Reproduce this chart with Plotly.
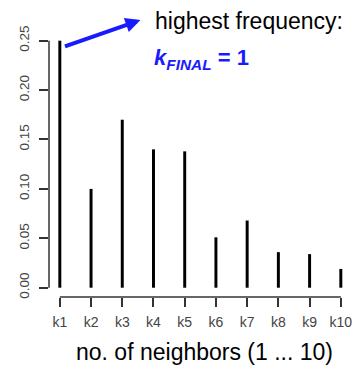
import plotly.graph_objects as go

# Relative frequency of each neighbourhood size k chosen across runs
k_labels = ["k1", "k2", "k3", "k4", "k5", "k6", "k7", "k8", "k9", "k10"]
k_values = [1, 2, 3, 4, 5, 6, 7, 8, 9, 10]
frequency = [0.25, 0.10, 0.17, 0.14, 0.138, 0.051, 0.068, 0.036, 0.034, 0.019]
y_ticks = [0.00, 0.05, 0.10, 0.15, 0.20, 0.25]

W, H = 358, 365
L, R, T, B = 49, 6, 30, 68
PW, PH = W - L - R, H - T - B

X_RANGE = [0.6534, 10.198]
Y_RANGE = [-0.0094, 0.2608]

FONT = "Liberation Sans, Arial, sans-serif"
AXIS_COLOR = "#333333"
LABEL_COLOR = "#444444"
BLUE = "#1a1aff"


def px_to_paper(px, py):
    return (px - L) / PW, (T + PH - py) / PH


fig = go.Figure()
fig.add_trace(go.Bar(
    x=k_values,
    y=frequency,
    width=0.095,
    marker=dict(color="black", line=dict(width=0)),
    hoverinfo="skip",
))

fig.update_layout(
    width=W, height=H,
    margin=dict(l=L, r=R, t=T, b=B, pad=0),
    paper_bgcolor="white",
    plot_bgcolor="white",
    showlegend=False,
    font=dict(family=FONT),
    xaxis=dict(
        range=X_RANGE,
        tickmode="array",
        tickvals=k_values,
        ticktext=k_labels,
        ticks="outside",
        ticklen=9,
        tickwidth=1.5,
        tickcolor=AXIS_COLOR,
        tickfont=dict(family=FONT, size=14, color=LABEL_COLOR),
        ticklabelstandoff=3,
        showgrid=False,
        zeroline=False,
        showline=False,
        fixedrange=True,
    ),
    yaxis=dict(
        range=Y_RANGE,
        tickmode="array",
        tickvals=y_ticks,
        ticktext=[f"{v:.2f}" for v in y_ticks],
        tickangle=-90,
        ticks="outside",
        ticklen=9,
        tickwidth=1.5,
        tickcolor=AXIS_COLOR,
        tickfont=dict(family=FONT, size=13.5, color=LABEL_COLOR),
        ticklabelstandoff=5,
        showgrid=False,
        zeroline=False,
        showline=False,
        fixedrange=True,
    ),
)

# R-style detached axis lines: y from 0 to the top tick, x from first to last category
fig.add_shape(type="line", xref="paper", yref="y", x0=0, x1=0,
              y0=y_ticks[0], y1=y_ticks[-1],
              line=dict(color=AXIS_COLOR, width=1.5))
fig.add_shape(type="line", xref="x", yref="paper", x0=k_values[0], x1=k_values[-1],
              y0=0, y1=0, line=dict(color=AXIS_COLOR, width=1.5))

# Axis title
tx, ty = px_to_paper(207, 352)
fig.add_annotation(text="no. of neighbors (1 ... 10)", xref="paper", yref="paper",
                   x=tx, y=ty, xanchor="center", yanchor="middle", showarrow=False,
                   font=dict(family=FONT, size=23, color="black"))

# Callout text
hx, hy = px_to_paper(155, 21)
fig.add_annotation(text="highest frequency:", xref="paper", yref="paper",
                   x=hx, y=hy, xanchor="left", yanchor="middle", showarrow=False,
                   font=dict(family=FONT, size=23, color="black"))
kx, ky = px_to_paper(154, 59)
fig.add_annotation(text="<b><i>k</i><sub><i>FINAL</i></sub> = 1</b>", xref="paper", yref="paper",
                   x=kx, y=ky, xanchor="left", yanchor="middle", showarrow=False,
                   font=dict(family=FONT, size=22, color=BLUE))

# Arrow from the tallest bar towards the callout
ax_px, ay_px = 142, 20
bx_px, by_px = 65, 47
arx, ary = px_to_paper(ax_px, ay_px)
fig.add_annotation(text="", xref="paper", yref="paper", x=arx, y=ary,
                   axref="pixel", ayref="pixel", ax=bx_px - ax_px, ay=by_px - ay_px,
                   showarrow=True, arrowhead=2, arrowsize=0.75, arrowwidth=4,
                   arrowcolor=BLUE, standoff=0, startstandoff=0)

fig.write_html("out.html", config={"displayModeBar": False})
